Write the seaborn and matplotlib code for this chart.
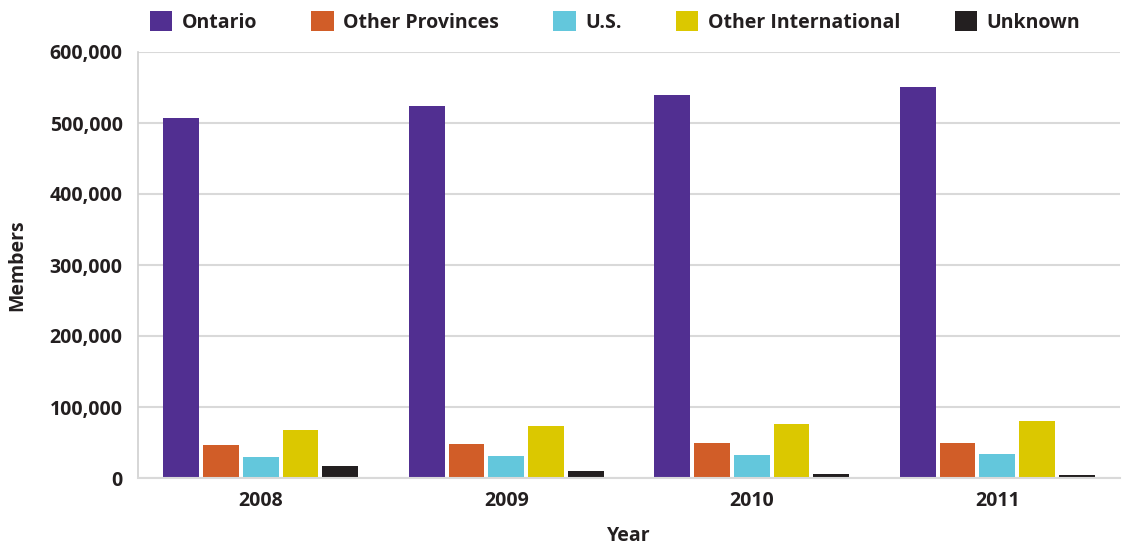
import matplotlib
matplotlib.use("Agg")
import matplotlib.pyplot as plt
import seaborn as sns
import pandas as pd
from matplotlib.ticker import FuncFormatter, FixedLocator

years = ["2008", "2009", "2010", "2011"]
series = ["Ontario", "Other Provinces", "U.S.", "Other International", "Unknown"]
ontario = [507000, 524000, 539000, 551000]
other_provinces = [46500, 48000, 49000, 49000]
us = [29500, 31000, 32500, 33800]
other_international = [67500, 73000, 76000, 80000]
unknown = [17000, 10000, 5600, 4200]
colors = ["#512f91", "#d15d28", "#63c7dc", "#dbc800", "#231f20"]

values = [ontario, other_provinces, us, other_international, unknown]
rows = []
for s, vals in zip(series, values):
    for y, v in zip(years, vals):
        rows.append({"Year": y, "Series": s, "Members": v})
df = pd.DataFrame(rows)

sns.set_style("white")
plt.rcParams["font.family"] = ["Open Sans", "DejaVu Sans"]
text_color = "#231f20"
fs = 14

fig = plt.figure(figsize=(11.23, 5.44), dpi=100)
ax = fig.add_axes([138/1123, 1-478/544, (1120-138)/1123, (478-52)/544])

sns.barplot(data=df, x="Year", y="Members", hue="Series", order=years,
            hue_order=series, palette=colors, width=0.81, gap=0.1,
            saturation=1, linewidth=0, ax=ax, legend=True)

ax.set_ylim(0, 600000)
ax.set_xlim(-0.5, 3.5)
ax.yaxis.set_major_locator(FixedLocator([0, 100000, 200000, 300000, 400000, 500000, 600000]))
ax.yaxis.set_major_formatter(FuncFormatter(lambda v, p: f"{int(v):,}"))
ax.grid(axis="y", color="#d9d9d9", linewidth=1.5)
ax.set_axisbelow(True)
for side in ["top", "right"]:
    ax.spines[side].set_visible(False)
ax.spines["left"].set_color("#d0d0d0")
ax.spines["bottom"].set_color("#d9d9d9")
ax.spines["left"].set_linewidth(1.2)
ax.spines["bottom"].set_linewidth(1.5)

ax.tick_params(axis="both", which="major", length=0, labelsize=fs, labelcolor=text_color)
ax.tick_params(axis="y", pad=11)
ax.tick_params(axis="x", pad=9)
ax.xaxis.set_minor_locator(FixedLocator([0.5, 1.5, 2.5]))
ax.tick_params(axis="x", which="minor", direction="in", length=10, width=1.2, color="#d0d0d0")
for lab in ax.get_xticklabels() + ax.get_yticklabels():
    lab.set_fontweight("bold")

ax.set_xlabel("Year", fontsize=fs, fontweight="bold", color=text_color)
ax.set_ylabel("Members", fontsize=fs, fontweight="bold", color=text_color)
ax.xaxis.set_label_coords(0.5, (478-526)/426)
ax.yaxis.set_label_coords((27-138)/982, 0.5)

handles, labels = ax.get_legend_handles_labels()
ax.legend(handles, labels, ncol=5, loc="center", bbox_to_anchor=(615/1123, 1-22/544),
          bbox_transform=fig.transFigure, frameon=False,
          prop={"size": fs, "weight": "bold"}, handlelength=1.15, handleheight=1.15,
          handletextpad=0.5, columnspacing=2.78, labelcolor=text_color)

fig.savefig("out.png", dpi=100)
